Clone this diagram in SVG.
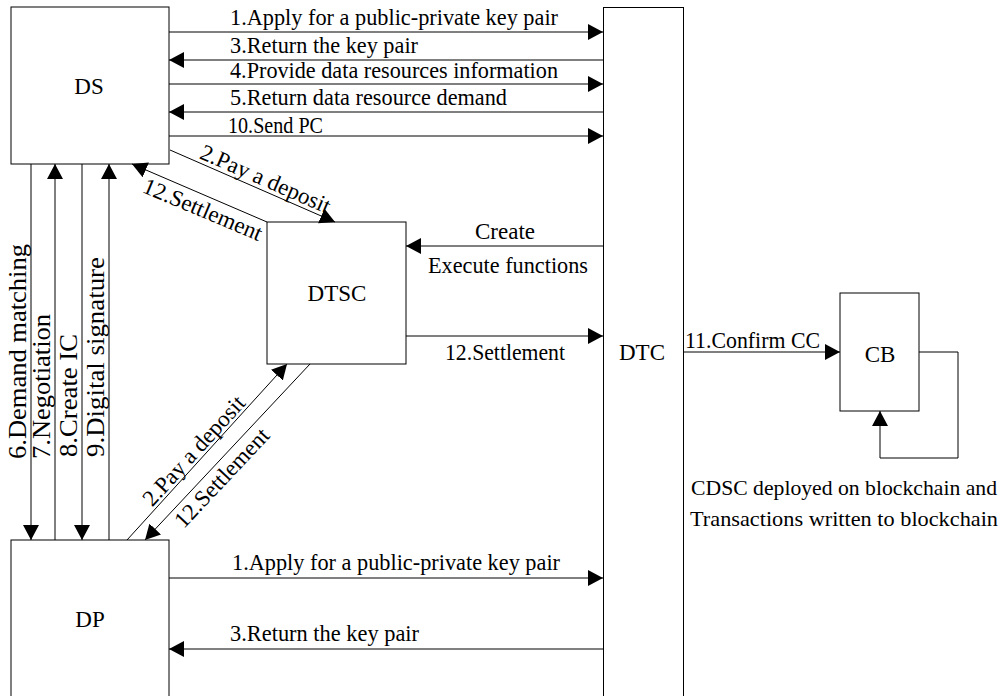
<svg xmlns="http://www.w3.org/2000/svg" width="1005" height="696" viewBox="0 0 1005 696">
<style>
text{font-family:"Liberation Serif","Times New Roman",serif;font-size:23px;fill:#000}
.box{fill:#fff;stroke:#000;stroke-width:1}
.c{fill:none;stroke:#000;stroke-width:1}
.v{font-size:25px}
.cap{font-size:21.5px}
</style>
<defs>
<marker id="ah" markerUnits="userSpaceOnUse" markerWidth="15" markerHeight="16" viewBox="0 0 15 16" refX="15" refY="8" orient="auto">
<path d="M0,0 L15,8 L0,16 z" fill="#000"/>
</marker>
</defs>
<rect width="1005" height="696" fill="#fff"/>
<g id="DS"><rect class="box" x="11" y="7" width="158" height="157"/><text x="89" y="94" text-anchor="middle">DS</text></g>
<g id="DTSC"><rect class="box" x="267" y="222" width="139" height="142"/><text x="337" y="301" text-anchor="middle">DTSC</text></g>
<g id="DTC"><rect class="box" x="603.5" y="7.5" width="80" height="700"/><text x="642" y="360" text-anchor="middle">DTC</text></g>
<g id="DP"><rect class="box" x="11" y="540" width="158" height="170"/><text x="90" y="627" text-anchor="middle">DP</text></g>
<g id="CB"><rect class="box" x="840" y="293" width="79" height="118"/><text x="880" y="362" text-anchor="middle">CB</text></g>
<g id="connectors">
<line class="c" x1="169" y1="32" x2="603" y2="32" marker-end="url(#ah)"/>
<line class="c" x1="603" y1="60" x2="169" y2="60" marker-end="url(#ah)"/>
<line class="c" x1="169" y1="84" x2="603" y2="84" marker-end="url(#ah)"/>
<line class="c" x1="603" y1="112" x2="169" y2="112" marker-end="url(#ah)"/>
<line class="c" x1="169" y1="136" x2="603" y2="136" marker-end="url(#ah)"/>
<line class="c" x1="170" y1="150" x2="335" y2="222" marker-end="url(#ah)"/>
<line class="c" x1="267" y1="222" x2="132" y2="164" marker-end="url(#ah)"/>
<line class="c" x1="603" y1="246" x2="406" y2="246" marker-end="url(#ah)"/>
<line class="c" x1="406" y1="336" x2="603" y2="336" marker-end="url(#ah)"/>
<line class="c" x1="684" y1="352" x2="840" y2="352" marker-end="url(#ah)"/>
<polyline class="c" points="919,352 958,352 958,458 880,458 880,411" marker-end="url(#ah)"/>
<line class="c" x1="31" y1="164" x2="31" y2="540" marker-end="url(#ah)"/>
<line class="c" x1="55" y1="540" x2="55" y2="164" marker-end="url(#ah)"/>
<line class="c" x1="82" y1="164" x2="82" y2="540" marker-end="url(#ah)"/>
<line class="c" x1="109" y1="540" x2="109" y2="164" marker-end="url(#ah)"/>
<line class="c" x1="127" y1="540" x2="287" y2="364" marker-end="url(#ah)"/>
<line class="c" x1="310" y1="364" x2="145" y2="540" marker-end="url(#ah)"/>
<line class="c" x1="169" y1="578" x2="603" y2="578" marker-end="url(#ah)"/>
<line class="c" x1="603" y1="649" x2="169" y2="649" marker-end="url(#ah)"/>
</g>
<g id="labels">
<text x="230" y="25" textLength="328" lengthAdjust="spacingAndGlyphs">1.Apply for a public-private key pair</text>
<text x="230" y="53" textLength="188" lengthAdjust="spacingAndGlyphs">3.Return the key pair</text>
<text x="230" y="78" textLength="328" lengthAdjust="spacingAndGlyphs">4.Provide data resources information</text>
<text x="230" y="105" textLength="277" lengthAdjust="spacingAndGlyphs">5.Return data resource demand</text>
<text x="228" y="133" textLength="95" lengthAdjust="spacingAndGlyphs">10.Send PC</text>
<text transform="translate(261,189.6) rotate(23.6)" x="0" y="-4" text-anchor="middle">2.Pay a deposit</text>
<text transform="translate(208,197.1) rotate(22.9)" x="0" y="21" text-anchor="middle">12.Settlement</text>
<text x="505" y="239" text-anchor="middle">Create</text>
<text x="508" y="273" text-anchor="middle" textLength="160" lengthAdjust="spacingAndGlyphs">Execute functions</text>
<text x="505" y="360" text-anchor="middle" textLength="120" lengthAdjust="spacingAndGlyphs">12.Settlement</text>
<text x="685" y="348" textLength="135" lengthAdjust="spacingAndGlyphs">11.Confirm CC</text>
<text class="cap" x="844" y="495" text-anchor="middle" textLength="306" lengthAdjust="spacingAndGlyphs">CDSC deployed on blockchain and</text>
<text class="cap" x="844" y="526" text-anchor="middle" textLength="308" lengthAdjust="spacingAndGlyphs">Transactions written to blockchain</text>
<text class="v" transform="translate(26,459) rotate(-90)" textLength="215" lengthAdjust="spacingAndGlyphs">6.Demand matching</text>
<text class="v" transform="translate(50,459) rotate(-90)" textLength="145" lengthAdjust="spacingAndGlyphs">7.Negotiation</text>
<text class="v" transform="translate(77,457) rotate(-90)" textLength="123" lengthAdjust="spacingAndGlyphs">8.Create IC</text>
<text class="v" transform="translate(104,457) rotate(-90)" textLength="200" lengthAdjust="spacingAndGlyphs">9.Digital signature</text>
<text transform="translate(201.6,457.9) rotate(-47.7)" x="0" y="-3" text-anchor="middle">2.Pay a deposit</text>
<text transform="translate(212,468.6) rotate(-46.8)" x="0" y="21" text-anchor="middle">12.Settlement</text>
<text x="232" y="570" textLength="328" lengthAdjust="spacingAndGlyphs">1.Apply for a public-private key pair</text>
<text x="230" y="641" textLength="189" lengthAdjust="spacingAndGlyphs">3.Return the key pair</text>
</g>
</svg>
